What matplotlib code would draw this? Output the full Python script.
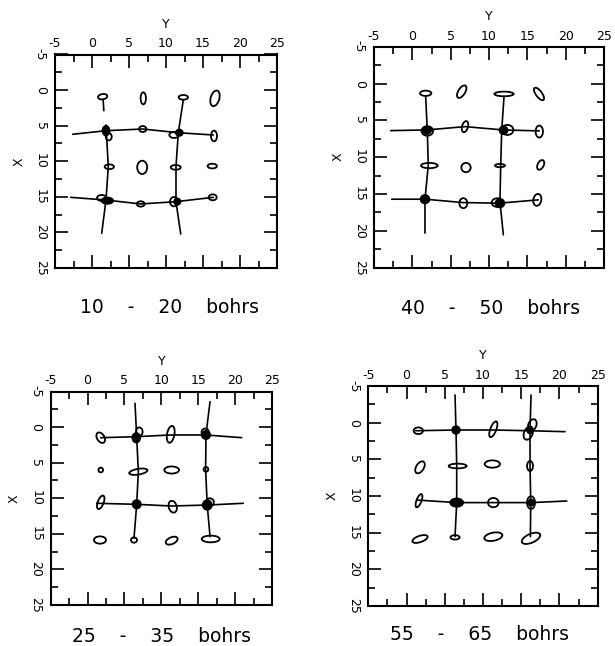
import matplotlib
matplotlib.use("Agg")
import matplotlib.pyplot as plt
from matplotlib.patches import Ellipse
from matplotlib.ticker import MultipleLocator

plt.rcParams['font.family'] = ['DejaVu Sans']

# ---------------- data ----------------
titles = ["10    -    20    bohrs", "40    -    50    bohrs", "25    -    35    bohrs", "55    -    65    bohrs"]
tick_values = [-5, 0, 5, 10, 15, 20, 25]

# each ellipse: (Y, X, width, height, visual angle in degrees, counter-clockwise)
p1_open = [
    (1.44, 0.93, 1.26, 0.75, 10), (6.93, 1.16, 0.72, 1.69, 0), (12.34, 1.02, 1.26, 0.66, 0),
    (16.62, 1.16, 1.17, 2.25, -15), (2.26, 6.55, 0.81, 1.03, 0), (6.85, 5.47, 0.99, 0.84, 0),
    (11.08, 6.31, 1.26, 0.84, 0), (16.49, 6.45, 0.81, 1.5, 0), (2.34, 10.77, 1.26, 0.66, 0),
    (6.78, 10.86, 1.35, 1.87, 0), (11.31, 10.86, 1.35, 0.66, 0), (16.25, 10.68, 1.26, 0.66, 0),
    (1.31, 15.16, 1.26, 0.84, 0), (6.58, 16.0, 1.08, 0.75, 0), (11.08, 15.68, 1.08, 1.31, 0),
    (16.31, 15.07, 1.08, 0.84, 0),
]
p1_filled = [(1.89, 5.71, 0.99, 1.4, 0), (11.8, 5.99, 0.99, 0.94, 0),
             (2.07, 15.54, 1.62, 0.94, 0), (11.53, 15.68, 0.9, 0.94, 0)]
p1_lines = [
    ([-2.61, 1.89, 6.85, 11.66, 16.39], [6.21, 5.71, 5.47, 5.99, 6.31]),
    ([-2.88, 1.89, 6.58, 11.35, 16.39], [15.07, 15.45, 16.0, 15.68, 15.07]),
    ([1.89, 2.2, 1.89, 1.31], [4.91, 10.77, 15.45, 20.12]),
    ([12.34, 11.66, 11.35, 11.35, 11.99], [1.39, 5.99, 10.77, 15.68, 20.22]),
    ([1.5, 1.6], [1.3, 2.9]),
]

p2_open = [
    (1.74, 1.33, 1.48, 0.72, 0), (6.44, 1.11, 0.9, 1.9, -30), (11.96, 1.42, 2.52, 0.63, 0),
    (16.52, 1.42, 0.8, 2.0, 35), (1.95, 6.45, 1.5, 1.3, 0), (6.87, 5.86, 0.78, 1.54, -15),
    (12.4, 6.31, 1.57, 1.36, 0), (16.56, 6.53, 0.96, 1.63, 0), (2.22, 11.15, 2.17, 0.72, 0),
    (7.0, 11.42, 1.22, 1.27, 0), (11.43, 11.15, 1.3, 0.45, 0), (16.74, 11.06, 0.8, 1.4, -25),
    (6.65, 16.26, 1.04, 1.36, 0), (11.09, 16.18, 1.48, 1.18, 0), (16.3, 15.81, 1.04, 1.63, -10),
]
p2_filled = [(1.87, 6.35, 1.2, 1.05, 0), (11.9, 6.35, 1.1, 1.1, 0),
             (1.65, 15.72, 1.2, 1.2, 0), (11.43, 16.26, 1.2, 1.2, 0)]
p2_lines = [
    ([-2.82, 1.87, 6.87, 11.87, 16.56], [6.4, 6.31, 5.86, 6.31, 6.44]),
    ([-2.69, 1.65, 6.65, 11.35, 16.43], [15.72, 15.72, 16.18, 16.26, 15.81]),
    ([1.74, 1.95, 2.08, 1.65, 1.65], [1.79, 6.31, 11.06, 15.81, 20.33]),
    ([11.96, 11.66, 11.53, 11.43, 11.87], [1.79, 6.31, 11.06, 16.04, 20.56]),
]

p3_open = [
    (1.78, 1.49, 1.0, 1.6, 30), (7.01, 0.65, 0.9, 1.2, 0), (11.27, 1.02, 1.0, 2.4, -10),
    (15.95, 0.75, 1.0, 1.1, 0), (1.78, 6.03, 0.63, 0.66, 0), (6.88, 6.27, 2.5, 0.8, 10),
    (11.4, 6.03, 2.0, 1.0, 0), (16.05, 5.94, 0.63, 0.66, 0), (1.78, 10.57, 0.8, 2.0, -20),
    (11.54, 11.19, 1.08, 1.69, 15), (16.58, 10.57, 1.08, 1.12, 0), (1.68, 15.87, 1.63, 1.03, 0),
    (6.29, 15.87, 0.81, 0.75, 0), (11.4, 15.96, 1.72, 0.94, 25), (16.69, 15.72, 2.44, 0.94, 0),
]
p3_filled = [(6.6, 1.5, 1.1, 1.4, 0), (16.05, 1.11, 1.17, 1.2, 0),
             (6.66, 10.85, 1.17, 1.22, 0), (16.22, 10.95, 1.27, 1.4, 0)]
p3_lines = [
    ([1.78, 6.56, 11.27, 16.05, 20.89], [1.49, 1.35, 1.11, 1.11, 1.49]),
    ([1.24, 6.56, 11.4, 16.36, 21.1], [10.71, 10.85, 11.09, 10.95, 10.71]),
    ([6.43, 6.66, 6.88, 6.66, 6.29], [-3.34, 1.49, 6.27, 10.85, 15.63]),
    ([16.6, 16.05, 16.0, 16.22, 16.6], [-3.57, 1.02, 6.03, 10.95, 15.4]),
]

p4_open = [
    (1.54, 1.1, 1.22, 0.91, 0), (11.35, 0.9, 0.78, 2.27, -20), (15.92, 1.45, 1.13, 1.82, -20),
    (16.45, 0.32, 1.05, 1.64, -20), (1.76, 6.09, 1.0, 1.8, -30), (6.69, 5.91, 2.35, 0.64, 0),
    (11.22, 5.64, 2.0, 1.0, 0), (16.15, 5.91, 0.78, 1.36, 0), (1.63, 10.64, 0.65, 1.9, -20),
    (11.35, 10.9, 1.4, 1.27, 0), (16.28, 10.9, 1.05, 1.73, 0), (1.76, 15.86, 2.1, 0.85, 20),
    (6.34, 15.64, 1.2, 0.6, 0), (11.35, 15.55, 2.4, 1.1, 12), (16.28, 15.77, 2.6, 1.2, 25),
]
p4_filled = [(6.47, 1.0, 1.05, 1.09, 0), (16.15, 1.0, 0.8, 1.0, 0),
             (6.56, 10.9, 1.74, 1.18, 0), (16.28, 10.9, 0.78, 0.9, 0)]
p4_lines = [
    ([1.2, 6.47, 11.35, 16.15, 20.72], [1.1, 1.0, 1.0, 1.1, 1.23]),
    ([1.33, 6.56, 11.35, 16.37, 20.95], [10.55, 10.9, 10.9, 10.9, 10.68]),
    ([6.34, 6.47, 6.56, 6.56, 6.34], [-3.77, 1.0, 5.77, 11.0, 15.55]),
    ([16.28, 16.15, 16.15, 16.24, 16.2], [-3.77, 1.1, 5.77, 10.78, 15.55]),
]

# ---------------- layout (pixels) ----------------
W, H = 615, 646
boxes = [(55, 54.5, 277, 268), (374, 46.7, 604, 267.5),
         (50.7, 391.5, 272, 605), (368.3, 386, 597.7, 606)]
title_pos = [(170, 308), (491, 309), (161, 637), (480, 635)]
panels = [(p1_open, p1_filled, p1_lines), (p2_open, p2_filled, p2_lines),
          (p3_open, p3_filled, p3_lines), (p4_open, p4_filled, p4_lines)]

fig = plt.figure(figsize=(W / 100, H / 100), dpi=100)

for (l, t, r, b), (opn, fil, lines), title, (tx, ty) in zip(boxes, panels, titles, title_pos):
    ax = fig.add_axes([l / W, 1 - b / H, (r - l) / W, (b - t) / H])
    ax.set_xlim(-5, 25)
    ax.set_ylim(25, -5)
    ax.set_xticks(tick_values)
    ax.set_yticks(tick_values)
    ax.set_xticklabels([str(v) for v in tick_values])
    ax.set_yticklabels([str(v) for v in tick_values], rotation=270, va='center')
    ax.xaxis.set_minor_locator(MultipleLocator(2.5))
    ax.yaxis.set_minor_locator(MultipleLocator(2.5))
    ax.tick_params(which='both', direction='in', top=True, bottom=True, left=True, right=True,
                   labeltop=True, labelbottom=False, labelleft=True, labelright=False,
                   width=1.2, color='black')
    ax.tick_params(which='major', length=9.5, labelsize=9)
    ax.tick_params(axis='x', which='major', pad=3)
    ax.tick_params(axis='y', which='major', pad=6)
    ax.tick_params(which='minor', length=5)
    ax.xaxis.set_label_position('top')
    ax.set_xlabel('Y', fontsize=9, labelpad=7)
    ax.set_ylabel('X', fontsize=9, labelpad=6)
    for s in ax.spines.values():
        s.set_linewidth(1.5)

    for ys, xs in lines:
        ax.plot(ys, xs, color='black', lw=1.2, solid_capstyle='round')
    for (y, x, w, h, a) in opn:
        ax.add_patch(Ellipse((y, x), w, h, angle=-a, fill=False, ec='black', lw=1.3))
    for (y, x, w, h, a) in fil:
        ax.add_patch(Ellipse((y, x), w, h, angle=-a, fc='black', ec='black', lw=1.0))

    fig.text(tx / W, 1 - ty / H, title, ha='center', va='center', fontsize=13.5)

fig.savefig("out.png", dpi=100, facecolor='white')
